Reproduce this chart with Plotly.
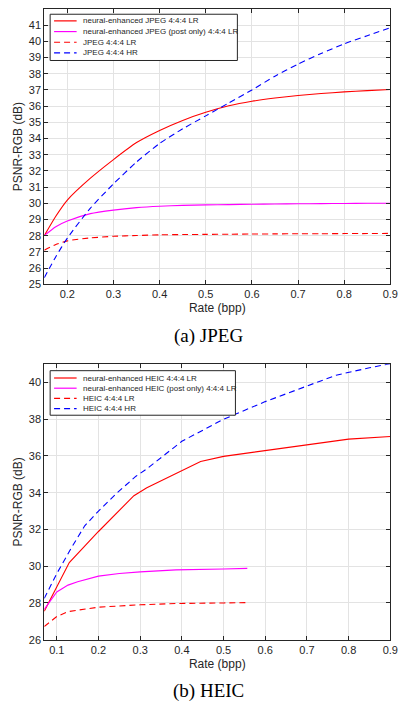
import plotly.graph_objects as go

# ---- data ----
jpeg_rate = [0.15, 0.175, 0.2, 0.25, 0.3, 0.35, 0.4, 0.45, 0.5, 0.55, 0.6, 0.65, 0.7, 0.75, 0.8, 0.85, 0.9]
jpeg_neural_lr = [28.0, 29.2, 30.2, 31.55, 32.7, 33.75, 34.5, 35.12, 35.62, 36.02, 36.3, 36.5, 36.66, 36.78, 36.88, 36.96, 37.03]
jpeg_post_lr = [28.0, 28.55, 28.9, 29.36, 29.58, 29.73, 29.82, 29.87, 29.9, 29.92, 29.94, 29.96, 29.97, 29.98, 29.99, 30.0, 30.0]
jpeg_lr = [27.1, 27.45, 27.68, 27.86, 27.96, 28.01, 28.05, 28.07, 28.08, 28.09, 28.1, 28.11, 28.12, 28.12, 28.13, 28.13, 28.14]
jpeg_hr = [25.4, 26.7, 27.85, 29.7, 31.2, 32.55, 33.7, 34.6, 35.4, 36.2, 37.0, 37.85, 38.6, 39.25, 39.85, 40.35, 40.85]

heic_neural_rate = [0.07, 0.1, 0.13, 0.2, 0.285, 0.316, 0.4, 0.445, 0.5, 0.6, 0.7, 0.8, 0.9]
heic_neural_lr = [27.55, 28.88, 30.2, 31.89, 33.84, 34.27, 35.23, 35.7, 35.98, 36.3, 36.6, 36.92, 37.06]
heic_post_rate = [0.07, 0.1, 0.127, 0.15, 0.2, 0.25, 0.3, 0.386, 0.5, 0.557]
heic_post_lr = [27.65, 28.6, 28.97, 29.15, 29.46, 29.6, 29.69, 29.8, 29.85, 29.88]
heic_lr_rate = [0.07, 0.1, 0.127, 0.2, 0.3, 0.386, 0.5, 0.557]
heic_lr = [26.72, 27.26, 27.53, 27.77, 27.9, 27.97, 28.0, 28.02]
heic_hr_rate = [0.07, 0.1, 0.135, 0.167, 0.2, 0.245, 0.29, 0.316, 0.4, 0.5, 0.6, 0.7, 0.77, 0.85, 0.9]
heic_hr = [28.25, 29.6, 31.0, 32.2, 33.0, 34.0, 34.9, 35.3, 36.8, 38.0, 38.96, 39.8, 40.4, 40.8, 41.03]

jpeg_names = ['neural-enhanced JPEG 4:4:4 LR', 'neural-enhanced JPEG (post only) 4:4:4 LR',
              'JPEG 4:4:4 LR', 'JPEG 4:4:4 HR']
heic_names = ['neural-enhanced HEIC 4:4:4 LR', 'neural-enhanced HEIC (post only) 4:4:4 LR',
              'HEIC 4:4:4 LR', 'HEIC 4:4:4 HR']
colors = ['#ff0000', '#ff00ff', '#ff0000', '#0000ff']
dashes = ['solid', 'solid', '6px,4px', '6px,4px']

W, H = 406, 706
OFF = 8  # page body margin, positions below are screen pixels

def px(x):
    return min(1, max(0, (x - OFF) / W))

def py(y):
    return min(1, max(0, 1 - (y - OFF) / H))

fig = go.Figure()

jpeg_series = [(jpeg_rate, jpeg_neural_lr), (jpeg_rate, jpeg_post_lr), (jpeg_rate, jpeg_lr), (jpeg_rate, jpeg_hr)]
heic_series = [(heic_neural_rate, heic_neural_lr), (heic_post_rate, heic_post_lr),
               (heic_lr_rate, heic_lr), (heic_hr_rate, heic_hr)]

for i, (x, y) in enumerate(jpeg_series):
    fig.add_trace(go.Scatter(x=x, y=y, mode='lines', name=jpeg_names[i], xaxis='x', yaxis='y',
                             line=dict(color=colors[i], width=1.1, dash=dashes[i], shape='spline', smoothing=0.6),
                             showlegend=False, hoverinfo='skip'))
for i, (x, y) in enumerate(heic_series):
    fig.add_trace(go.Scatter(x=x, y=y, mode='lines', name=heic_names[i], xaxis='x2', yaxis='y2',
                             line=dict(color=colors[i], width=1.1, dash=dashes[i]),
                             showlegend=False, hoverinfo='skip'))

axis_common = dict(
    showline=True, linecolor='#262626', linewidth=1, mirror='ticks',
    ticks='inside', ticklen=4, tickwidth=1, tickcolor='#262626',
    showgrid=True, gridcolor='#e3e3e3', gridwidth=1, zeroline=False,
    tickfont=dict(family='Liberation Sans, Arial', size=11, color='#262626'),
)
title_font = dict(family='Liberation Sans, Arial', size=12, color='#262626')

fig.update_layout(
    width=W, height=H,
    margin=dict(l=0, r=0, t=0, b=0),
    paper_bgcolor='white', plot_bgcolor='white',
    xaxis=dict(domain=[px(45), px(398)], anchor='y', range=[0.15, 0.9],
               tickvals=[0.2, 0.3, 0.4, 0.5, 0.6, 0.7, 0.8, 0.9],
               title=dict(text='Rate (bpp)', font=title_font, standoff=4), **axis_common),
    yaxis=dict(domain=[py(286), py(8)], anchor='x', range=[25, 42], dtick=1,
               title=dict(text='PSNR-RGB (dB)', font=title_font, standoff=3), **axis_common),
    xaxis2=dict(domain=[px(45), px(398)], anchor='y2', range=[0.07, 0.9],
                tickvals=[0.1, 0.2, 0.3, 0.4, 0.5, 0.6, 0.7, 0.8, 0.9],
                title=dict(text='Rate (bpp)', font=title_font, standoff=4), **axis_common),
    yaxis2=dict(domain=[py(645), py(366.7)], anchor='x2', range=[26, 41],
                tickvals=[26, 28, 30, 32, 34, 36, 38, 40],
                title=dict(text='PSNR-RGB (dB)', font=title_font, standoff=3), **axis_common),
    showlegend=False,
)

# legends drawn as a boxed list like the original figure
def add_legend(names, box, row0, step):
    x0, y0, x1, y1 = box
    fig.add_shape(type='rect', xref='paper', yref='paper',
                  x0=px(x0), x1=px(x1), y0=py(y0), y1=py(y1),
                  line=dict(color='#262626', width=1), fillcolor='white', layer='above')
    for i, name in enumerate(names):
        yy = row0 + i * step
        fig.add_shape(type='line', xref='paper', yref='paper',
                      x0=px(x0 + 4), x1=px(x0 + 27), y0=py(yy), y1=py(yy),
                      line=dict(color=colors[i], width=1.2, dash=dashes[i]), layer='above')
        fig.add_annotation(xref='paper', yref='paper', x=px(x0 + 31), y=py(yy),
                           text=name, showarrow=False, xanchor='left', yanchor='middle',
                           font=dict(family='Liberation Sans, Arial', size=8, color='#262626'))

add_legend(jpeg_names, (51, 13.3, 242, 60), 20, 10.8)
add_legend(heic_names, (51, 373.3, 240, 418.3), 380.7, 10.3)

# sub-captions
fig.add_annotation(xref='paper', yref='paper', x=px(213), y=py(338), text='(a) JPEG',
                   showarrow=False, xanchor='center', yanchor='middle',
                   font=dict(family='Liberation Serif, Times New Roman', size=19, color='black'))
fig.add_annotation(xref='paper', yref='paper', x=px(213), y=py(697), text='(b) HEIC',
                   showarrow=False, xanchor='center', yanchor='middle',
                   font=dict(family='Liberation Serif, Times New Roman', size=19, color='black'))

fig.write_html('out.html')
